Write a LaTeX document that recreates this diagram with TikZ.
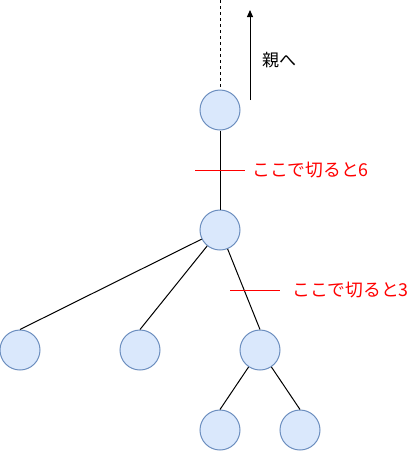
\documentclass[tikz,border=0pt]{standalone}
\usepackage{fontspec}
\newfontfamily\jpfont{Noto Sans CJK JP}
\usetikzlibrary{arrows.meta}
\definecolor{fillblue}{HTML}{DAE8FC}
\definecolor{lineblue}{HTML}{6C8EBF}
\tikzset{
  vtx/.style={circle, draw=lineblue, fill=fillblue, minimum size=40pt, inner sep=0pt, line width=1pt},
  edge/.style={draw=black, line width=1pt},
  cut/.style={draw=red, line width=1pt},
  cutlabel/.style={anchor=west, text=red, inner sep=0pt, font=\jpfont\fontsize{17.8}{18}\selectfont},
}
\begin{document}
\begin{tikzpicture}[x=1pt,y=-1pt]
\useasboundingbox (0,0) rectangle (411,451);
% nodes of the tree
\node[vtx] (up) at (220,110) {};
\node[vtx] (mid) at (220,230) {};
\node[vtx] (leafA) at (20,350) {};
\node[vtx] (leafB) at (140,350) {};
\node[vtx] (leafC) at (260,350) {};
\node[vtx] (leafD) at (220,430) {};
\node[vtx] (leafE) at (300,430) {};
% edges
\coordinate (top) at (220,0);
\draw[edge, dashed] (top) -- (up);
\draw[edge] (up) -- (mid);
\foreach \Leaf in {leafA, leafB, leafC}{
    \draw[edge] (mid) -- (\Leaf.north);}
\foreach \Leaf in {leafD, leafE}{
    \draw[edge] (leafC) -- (\Leaf.north);}
% to the parent
\coordinate (arrfrom) at (250,100);
\coordinate (arrto) at (250,10);
\draw[edge, -{Triangle[length=7pt, width=6pt]}] (arrfrom) -- (arrto);
\node[anchor=west, inner sep=0pt, font=\jpfont\fontsize{17}{17}\selectfont] (parent) at (262,60) {親へ};
% cut marks
\coordinate (cutAl) at (195,170);
\coordinate (cutAr) at (245,170);
\draw[cut] (cutAl) -- (cutAr);
\node[cutlabel] (cutA) at (252,170) {ここで切ると6};
\coordinate (cutBl) at (230,290);
\coordinate (cutBr) at (280,290);
\draw[cut] (cutBl) -- (cutBr);
\node[cutlabel] (cutB) at (292,290) {ここで切ると3};
\end{tikzpicture}
\end{document}
